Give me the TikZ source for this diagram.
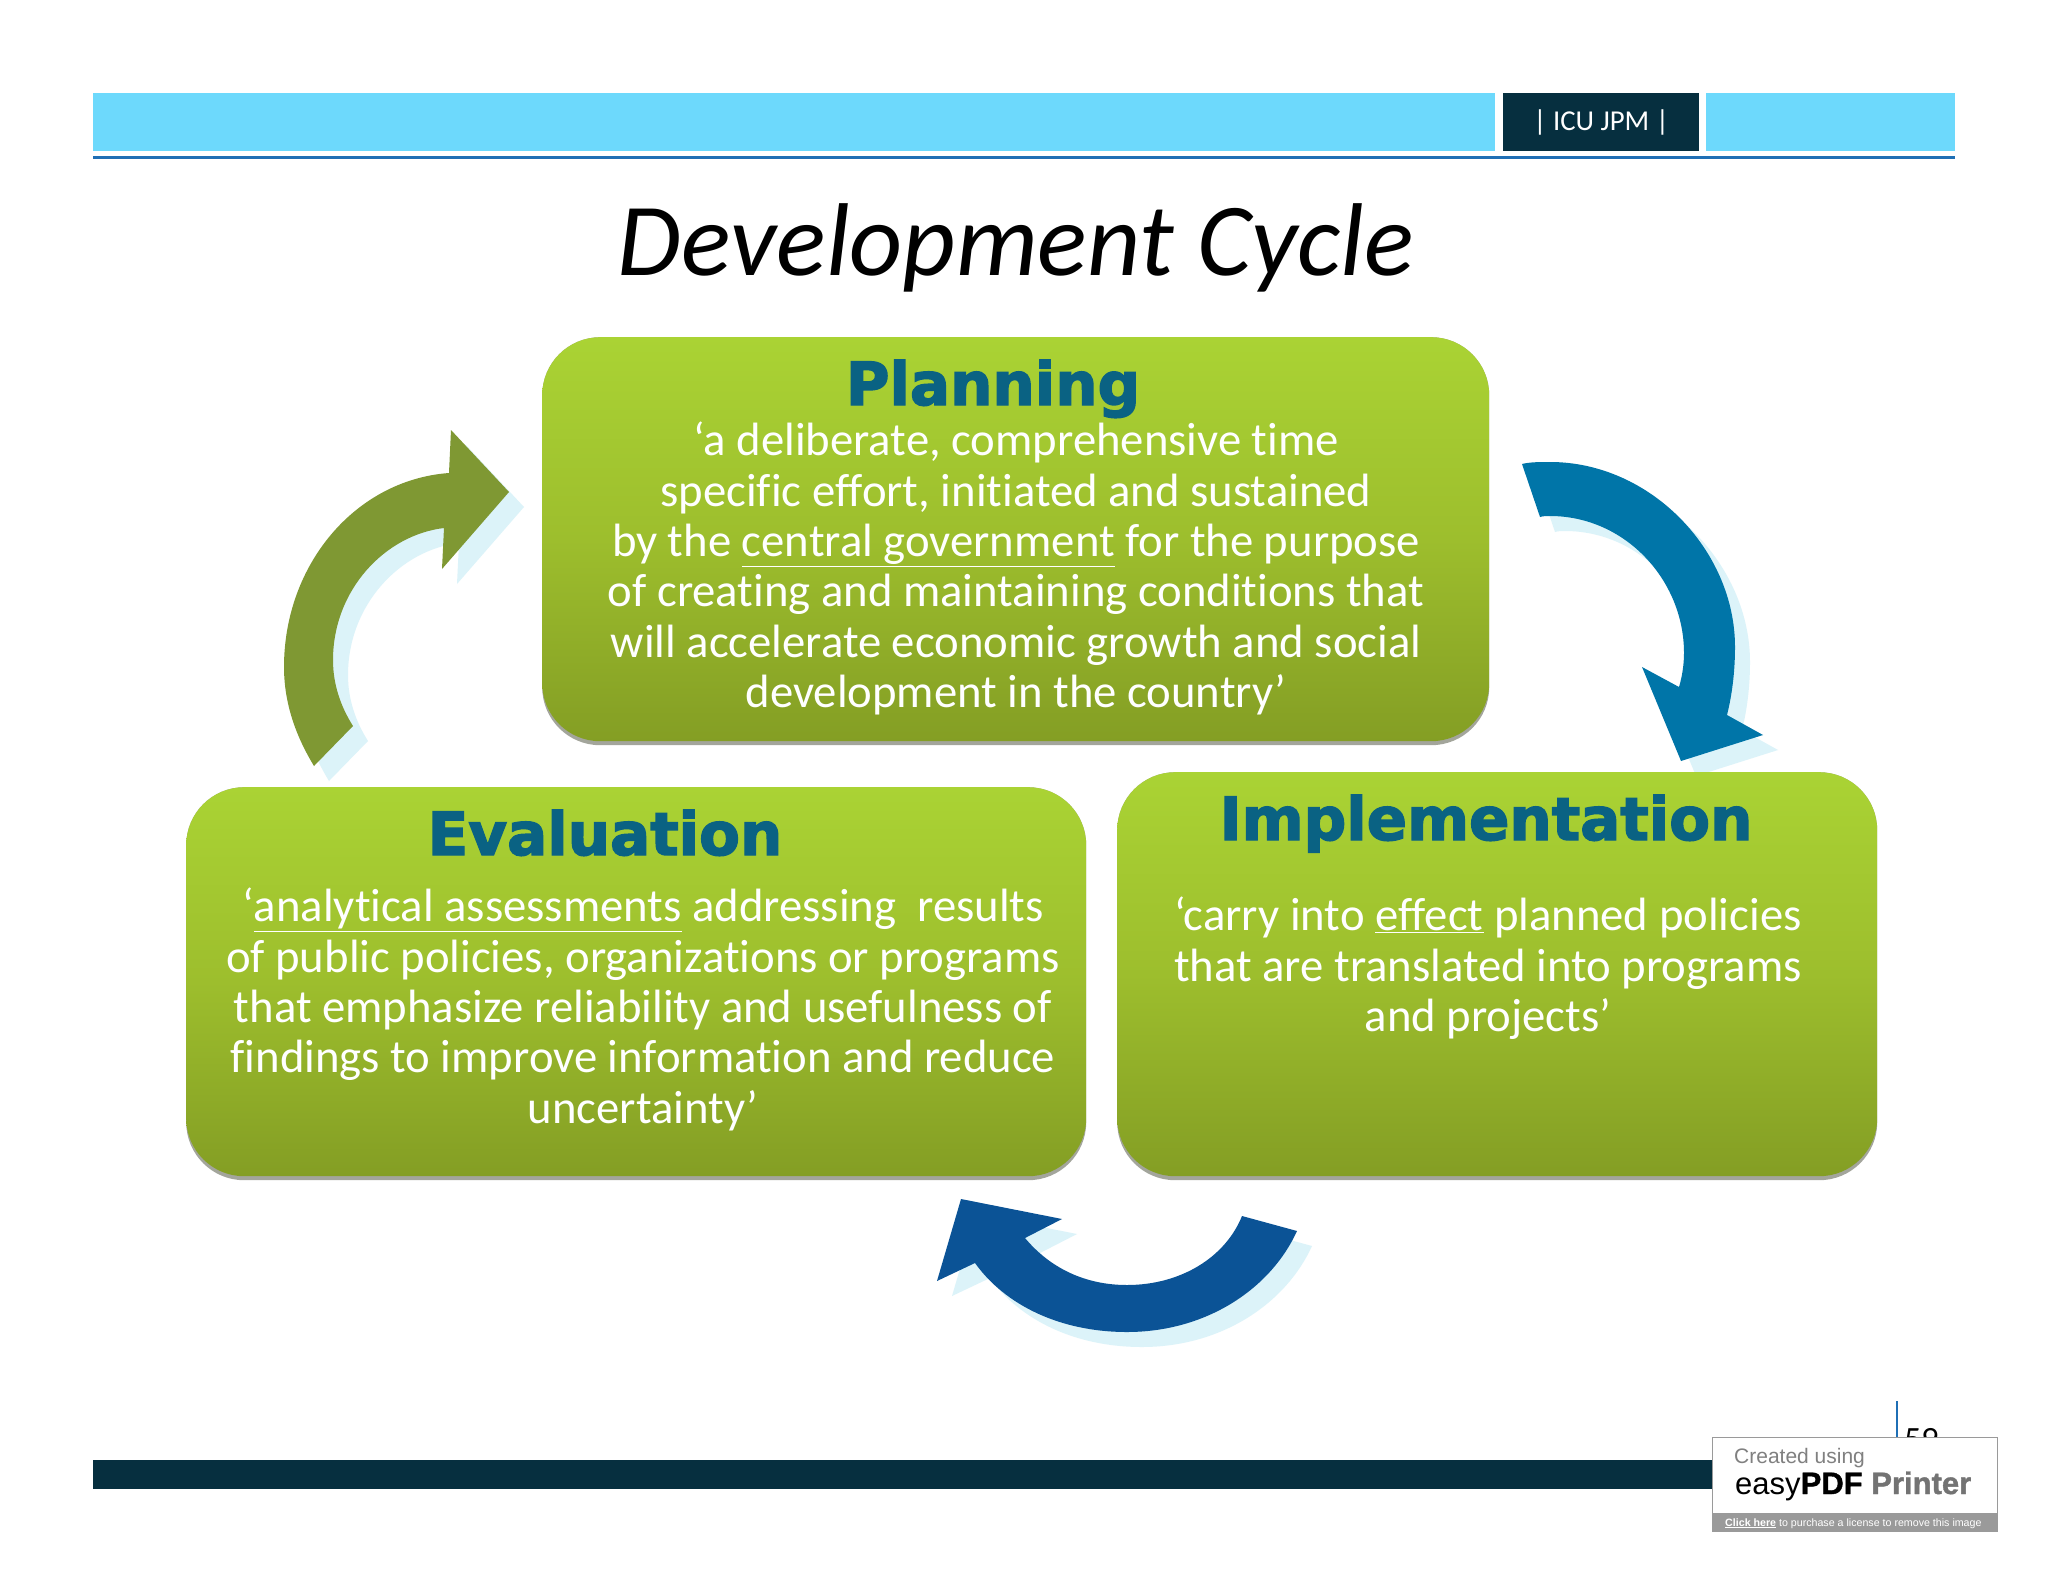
\documentclass[tikz,border=0pt]{standalone}
\usepackage{fontspec}
\setmainfont{Carlito}[Ligatures={NoCommon}]
\newfontfamily\headfont{DejaVu Sans}[BoldFeatures={FakeBold=2.4}]
\newfontfamily\markfont{Liberation Sans}
\newfontfamily\markheavy{Liberation Sans Bold}[FakeBold=1.2]
\definecolor{barlight}{HTML}{6DD9FC}
\definecolor{bardark}{HTML}{062F3F}
\definecolor{ruleblue}{HTML}{1F6FB5}
\definecolor{boxtop}{HTML}{AAD334}
\definecolor{boxmid}{HTML}{9DBE2D}
\definecolor{boxbot}{HTML}{849E24}
\definecolor{boxshade}{HTML}{A3A59B}
\definecolor{headblue}{HTML}{0A6283}
\definecolor{arrowshade}{HTML}{DCF3F9}
\definecolor{arrowgreen}{HTML}{7F9833}
\definecolor{arrowteal}{HTML}{0075A8}
\definecolor{arrowblue}{HTML}{0B5396}
\definecolor{markgray}{HTML}{9A9A9A}
\tikzset{
  x=1pt,y=-1pt,
  greenbox/.style={anchor=north west,inner sep=0pt,rounded corners=58pt,
    top color=boxtop,bottom color=boxbot,middle color=boxmid},
  shadebox/.style={anchor=north west,inner sep=0pt,rounded corners=58pt,fill=boxshade},
  headtext/.style={anchor=base,inner sep=0pt,text=headblue,font=\headfont\bfseries\fontsize{59.5}{60}\selectfont},
  bodytext/.style={anchor=north,inner sep=0pt,align=center,text=white,font=\fontsize{46.7}{50.3}\selectfont},
  barrect/.style={anchor=north west,inner sep=0pt,minimum height=58pt},
}
\begin{document}
\begin{tikzpicture}
\useasboundingbox (0,0) rectangle (2048,1582);
\fill[white] (0,0) rectangle (2048,1582);
% header
\node[barrect,fill=barlight,minimum width=1402pt] (barl) at (93,93) {};
\node[barrect,fill=bardark,minimum width=196pt,text=white,font=\fontsize{28.8}{29}\selectfont] (bard) at (1503,93) {\raisebox{-1pt}{| ICU JPM |}};
\node[barrect,fill=barlight,minimum width=249pt] (barr) at (1706,93) {};
\draw[ruleblue,line width=2.5pt] (93,157.5) -- (1955,157.5);
% title
\node[anchor=base,inner sep=0pt,font=\itshape\fontsize{103.5}{104}\selectfont] (title) at (1016,275) {Development Cycle};
% arrows: shadows
\begin{scope}[shift={(15,15)}]
\fill[arrowshade] (314,766) .. controls (297,738) and (284,705) .. (284,667) .. controls (284,565) and (355,480) .. (449,473) -- (451,430) -- (509,492) -- (442,569) -- (444,528) .. controls (385,535) and (333,590) .. (333,660) .. controls (333,685) and (341,707) .. (353,726) -- cycle;
\fill[arrowshade] (1522,464) .. controls (1530,462) and (1540,462) .. (1550,462) .. controls (1650,462) and (1735,550) .. (1735,647) .. controls (1735,672) and (1732,695) .. (1727,715) -- (1763,735) -- (1681,761) -- (1642,667) -- (1679,687) .. controls (1682,677) and (1684,665) .. (1684,653) .. controls (1684,580) and (1625,516) .. (1550,516) .. controls (1547,516) and (1543,516) .. (1540,517) -- cycle;
\fill[arrowshade] (1297,1231) .. controls (1270,1290) and (1205,1332) .. (1127,1332) .. controls (1060,1332) and (1005,1305) .. (975,1263) -- (937,1281) -- (961,1199) -- (1062,1219) -- (1025,1238) .. controls (1050,1268) and (1085,1285) .. (1127,1285) .. controls (1180,1285) and (1225,1258) .. (1242,1216) -- cycle;
\end{scope}
% boxes
\node[shadebox,minimum width=947pt,minimum height=408pt] (planshade) at (542,337) {};
\node[shadebox,minimum width=900pt,minimum height=393pt] (evalshade) at (186,787) {};
\node[shadebox,minimum width=760pt,minimum height=408pt] (implshade) at (1117,772) {};
\node[greenbox,minimum width=947pt,minimum height=404pt] (planbox) at (542,337) {};
\node[greenbox,minimum width=900pt,minimum height=389pt] (evalbox) at (186,787) {};
\node[greenbox,minimum width=760pt,minimum height=404pt] (implbox) at (1117,772) {};
% arrows
\fill[arrowgreen] (314,766) .. controls (297,738) and (284,705) .. (284,667) .. controls (284,565) and (355,480) .. (449,473) -- (451,430) -- (509,492) -- (442,569) -- (444,528) .. controls (385,535) and (333,590) .. (333,660) .. controls (333,685) and (341,707) .. (353,726) -- cycle;
\fill[arrowteal] (1522,464) .. controls (1530,462) and (1540,462) .. (1550,462) .. controls (1650,462) and (1735,550) .. (1735,647) .. controls (1735,672) and (1732,695) .. (1727,715) -- (1763,735) -- (1681,761) -- (1642,667) -- (1679,687) .. controls (1682,677) and (1684,665) .. (1684,653) .. controls (1684,580) and (1625,516) .. (1550,516) .. controls (1547,516) and (1543,516) .. (1540,517) -- cycle;
\fill[arrowblue] (1297,1231) .. controls (1270,1290) and (1205,1332) .. (1127,1332) .. controls (1060,1332) and (1005,1305) .. (975,1263) -- (937,1281) -- (961,1199) -- (1062,1219) -- (1025,1238) .. controls (1050,1268) and (1085,1285) .. (1127,1285) .. controls (1180,1285) and (1225,1258) .. (1242,1216) -- cycle;
% headings
\node[headtext] (planhead) at (993,405) {Planning};
\node[headtext] (evalhead) at (605,855) {Evaluation};
\node[headtext] (implhead) at (1486,840) {Implementation};
% bodies
\node[bodytext] (planbody) at (1016,422) {‘a deliberate, comprehensive time\\specific effort, initiated and sustained\\by the \underline{central government} for the purpose\\of creating and maintaining conditions that\\will accelerate economic growth and social\\development in the country’};
\node[bodytext] (evalbody) at (643,888) {‘\underline{analytical assessments} addressing~ results\\of public policies, organizations or programs\\that emphasize reliability and usefulness of\\findings to improve information and reduce\\uncertainty’};
\node[bodytext] (implbody) at (1488,897) {‘carry into \underline{effect} planned policies\\that are translated into programs\\and projects’};
% footer
\draw[ruleblue,line width=2pt] (1897,1401) -- (1897,1440);
\node[anchor=base west,inner sep=0pt,font=\fontsize{34}{34}\selectfont] (pageno) at (1904,1450) {59};
\node[anchor=north west,inner sep=0pt,fill=bardark,minimum width=1620pt,minimum height=29pt] (footbar) at (93,1460) {};
% watermark
\node[anchor=north west,inner sep=0pt,fill=white,draw=markgray,line width=1pt,minimum width=285pt,minimum height=94pt] (markbox) at (1712,1437) {};
\node[anchor=north west,inner sep=0pt,fill=markgray,minimum width=285pt,minimum height=18pt] (markstrip) at (1712,1513) {};
\node[anchor=base west,inner sep=0pt,text=gray,font=\markfont\fontsize{21}{21}\selectfont] (markone) at (1734,1463) {Created using};
\node[anchor=base west,inner sep=0pt,font=\markfont\fontsize{31}{31}\selectfont] (marktwo) at (1735,1494) {easy{\markheavy PDF} \textcolor{gray!110}{\markheavy Printer}};
\node[anchor=base west,inner sep=0pt,text=white,font=\markfont\fontsize{10.65}{10.65}\selectfont] (markthree) at (1725,1526) {\underline{\textbf{Click here}} to purchase a license to remove this image};
\end{tikzpicture}
\end{document}
